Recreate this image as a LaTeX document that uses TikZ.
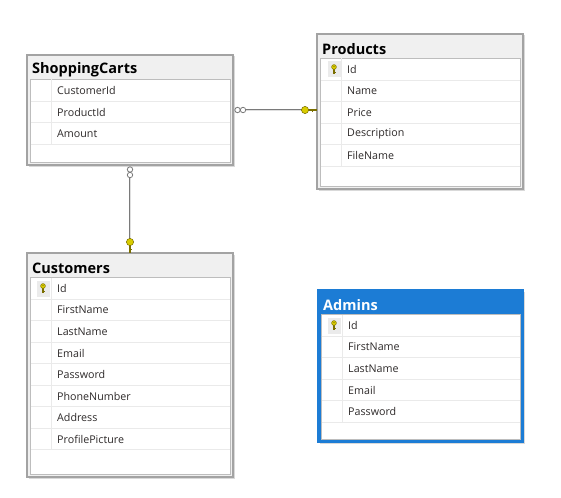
\documentclass[tikz,border=0pt]{standalone}
\usepackage{fontspec}
\setmainfont{Open Sans}
\usetikzlibrary{calc}
\definecolor{boxgray}{HTML}{A3A3A3}
\definecolor{titlegray}{HTML}{F0F0F0}
\definecolor{innergray}{HTML}{BDBDBD}
\definecolor{sepgray}{HTML}{EAEAEA}
\definecolor{fieldcol}{HTML}{2E2A2A}
\definecolor{selblue}{HTML}{1C7CD5}
\definecolor{keyyellow}{HTML}{D9CC00}
\definecolor{keydark}{HTML}{7A6E00}
\definecolor{relgray}{HTML}{7A7A7A}
\tikzset{
 plain-outer/.style={draw=boxgray, fill=titlegray, line width=1.3pt},
 sel-outer/.style={draw=selblue, fill=selblue, line width=1.3pt},
 plain-title/.style={text=black},
 sel-title/.style={text=white},
 tabletitle/.style={anchor=west, inner sep=0pt, font=\bfseries\fontsize{14.5}{14.5}\selectfont},
 field/.style={anchor=west, inner sep=0pt, text=fieldcol, font=\fontsize{10.7}{11}\selectfont},
 innerbox/.style={draw=innergray, fill=white, line width=0.8pt},
 sepline/.style={draw=sepgray, line width=0.7pt},
 rel/.style={draw=relgray, line width=0.7pt, double=gray!25, double distance=0.6pt},
 infring/.style={draw=relgray, line width=0.8pt, fill=white},
 keyhead/.style={draw=keydark, fill=keyyellow, line width=0.5pt},
 keyshaft/.style={draw=keydark, line width=1.6pt},
 keycell/.style={fill=black!8, draw=none},
 shadowbox/.style={fill=black!15, draw=none},
}
\newcommand\dbtable[8]{%
 \fill[shadowbox] ({#2+1.5},{#3+1.5}) rectangle ({#4+1.5},{#5+1.5});
 \node[#8-outer, rectangle, inner sep=0pt, outer sep=0pt, anchor=north west,
   minimum width={#4-#2}, minimum height={#5-#3}] (#1) at (#2,#3) {};
 \node[tabletitle, #8-title] (#1-t) at ({#2+5},{#3+15}) {#6};
 \draw[innerbox] ({#2+3},{#3+24}) rectangle ({#4-3},{#5-3});
 \foreach \t [count=\i] in {#7} {
   \pgfmathsetmacro\ry{#3+24+11.5+21.5*(\i-1)}
   \node[field] (#1-\i) at ({#2+30},\ry) {\t};
   \draw[sepline] ({#2+3.5},{\ry+10.75}) -- ({#4-3.5},{\ry+10.75});
   \xdef\lastsep{\ry+10.75}
 }
 \draw[sepline] ({#2+24},{#3+24.5}) -- ({#2+24},{\lastsep});
}
\newcommand\tablekey[2]{%
 \fill[keycell] ({#1-6.5},{#2-8}) rectangle ({#1+6.5},{#2+8});
 \draw[keyshaft] (#1,{#2-1}) -- (#1,{#2+4.5});
 \draw[keydark, line width=0.8pt] (#1,{#2+2.5}) -- ({#1+1.8},{#2+2.5});
 \draw[keyhead] (#1,{#2-2.5}) circle (2.4);
 \fill[keydark] (#1,{#2-3}) circle (0.6);
}
\begin{document}
\begin{tikzpicture}[x=1pt,y=-1pt]
\fill[white] (0,0) rectangle (561,497);
\useasboundingbox (0,0) rectangle (561,497);

\dbtable{sc}{27}{55}{233}{165}{ShoppingCarts}{CustomerId,ProductId,Amount}{plain}
\dbtable{pr}{317}{34}{523}{189}{Products}{Id,Name,Price,Description,FileName}{plain}
\dbtable{cu}{27}{253}{233}{477}{Customers}{Id,FirstName,LastName,Email,Password,PhoneNumber,Address,ProfilePicture}{plain}
\dbtable{ad}{318}{290}{523}{442}{Admins}{Id,FirstName,LastName,Email,Password}{sel}

\tablekey{334}{69.5}
\tablekey{43}{288.5}
\tablekey{334}{325.5}

% ShoppingCarts -> Products
\coordinate (hk) at ($(sc.east -| pr.west)+(-12,0)$);
\draw[rel] ($(sc.east)+(13,0)$) -- (hk);
\draw[infring] ($(sc.east)+(4.5,0)$) circle (2.7);
\draw[infring] ($(sc.east)+(10,0)$) circle (2.7);
\draw[keyshaft] (hk) -- (sc.east -| pr.west);
\draw[keydark, line width=0.8pt] ($(hk)+(7,0)$) -- ($(hk)+(7,1.8)$);
\draw[keyhead] (hk) circle (3.6);

% ShoppingCarts -> Customers
\coordinate (vk) at ($(cu.north)+(0,-11)$);
\draw[rel] ($(sc.south)+(0,13)$) -- (vk);
\draw[infring] ($(sc.south)+(0,4.5)$) circle (2.7);
\draw[infring] ($(sc.south)+(0,10)$) circle (2.7);
\draw[keyshaft] (vk) -- (cu.north);
\draw[keydark, line width=0.8pt] ($(vk)+(0,7)$) -- ($(vk)+(1.8,7)$);
\draw[keyhead] (vk) circle (3.6);
\end{tikzpicture}
\end{document}
